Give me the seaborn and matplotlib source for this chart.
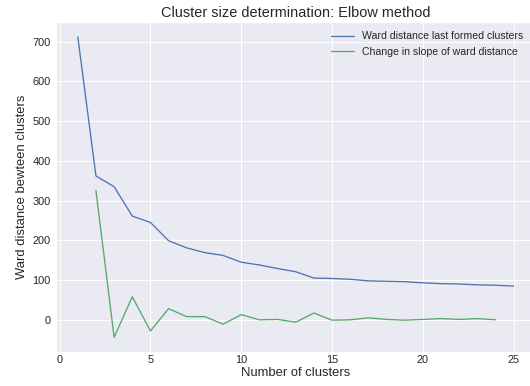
import matplotlib
matplotlib.use("Agg")
import matplotlib.pyplot as plt
import seaborn as sns
import pandas as pd

n_clusters = list(range(1, 26))
ward_distance = [712, 362, 335, 261, 245, 199, 181, 169, 162, 145, 138, 129, 121,
                 105, 104, 102, 98, 97, 96, 93, 91, 90, 88, 87, 85]
slope_x = list(range(2, 25))
slope_change = [325, -44, 58, -28, 28, 8, 8, -11, 13, 0, 1, -6, 17,
                -1, 0, 5, 1, -1, 1, 3, 1, 3, 0]

sns.set_theme(style="darkgrid")
plt.rcParams["font.family"] = ["Liberation Sans", "DejaVu Sans"]

DPI = 72
fig = plt.figure(figsize=(530 / DPI, 386 / DPI), dpi=DPI)
ax = fig.add_axes([56 / 530, 1 - 352.3 / 386, (535.5 - 56) / 530, (352.3 - 21.9) / 386])

df1 = pd.DataFrame({"x": n_clusters, "y": ward_distance})
df2 = pd.DataFrame({"x": slope_x, "y": slope_change})
sns.lineplot(data=df1, x="x", y="y", ax=ax, color="#4C72B0", linewidth=1.3,
             label="Ward distance last formed clusters")
sns.lineplot(data=df2, x="x", y="y", ax=ax, color="#55A868", linewidth=1.3,
             label="Change in slope of ward distance")

ax.set_xticks([0, 5, 10, 15, 20, 25])
ax.set_yticks([0, 100, 200, 300, 400, 500, 600, 700])
ax.tick_params(axis="x", labelsize=11, colors="#262626", pad=3, length=0)
ax.tick_params(axis="y", labelsize=11, colors="#262626", pad=5, length=0)
ax.set_title("Cluster size determination: Elbow method", fontsize=14.5,
             color="#262626", pad=5)
ax.set_xlabel("Number of clusters", fontsize=13, color="#262626", labelpad=2)
ax.set_ylabel("Ward distance bewteen clusters", fontsize=13, color="#262626", labelpad=5)
leg = ax.legend(loc="upper right", bbox_to_anchor=(0.995, 1.0), fontsize=10.5,
                frameon=False, handlelength=2.2, labelspacing=0.5)
for t in leg.get_texts():
    t.set_color("#262626")

fig.savefig("out.png", dpi=DPI)
